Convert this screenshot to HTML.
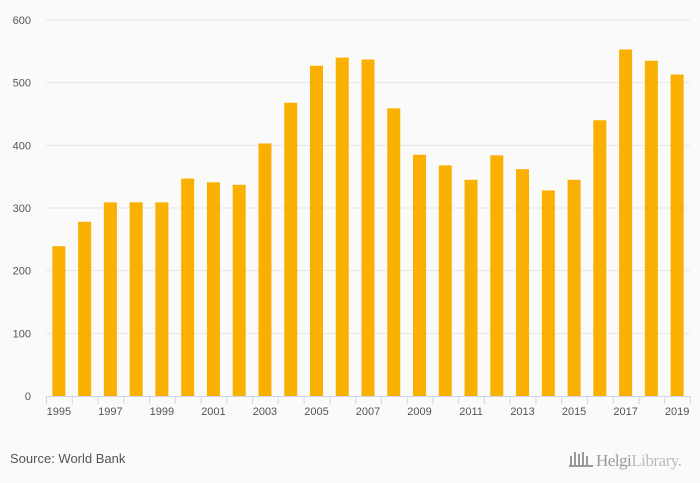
<!DOCTYPE html>
<html><head><meta charset="utf-8"><style>
body{margin:0;background:#fafafa;font-family:"Liberation Sans",sans-serif;}
svg{display:block}
</style></head><body>
<svg id="chart" width="700" height="483">
<rect x="0" y="0" width="700" height="483" fill="#fafafa"/>
<g id="grid"></g><g id="bars"></g><g id="xaxis"></g>
<text x="10" y="463" font-size="13" fill="#555">Source: World Bank</text>
<g fill="#999">
<rect x="570" y="456" width="2" height="10"/><rect x="574" y="452" width="2" height="14"/><rect x="578" y="454" width="2" height="12"/><rect x="582" y="452" width="2" height="14"/><rect x="586" y="456" width="2" height="10"/>
<rect x="569" y="465" width="24" height="2"/>
<text x="596" y="466" font-size="17" font-family="Liberation Serif,serif" fill="#999" letter-spacing="-0.5">Helgi<tspan fill="#bbb">Library.</tspan></text>
</g>
</svg>
<script>
const categories=[1995,1996,1997,1998,1999,2000,2001,2002,2003,2004,2005,2006,2007,2008,2009,2010,2011,2012,2013,2014,2015,2016,2017,2018,2019];
const values=[239,278,309,309,309,347,341,337,403,468,527,540,537,459,385,368,345,384,362,328,345,440,553,535,513];
const yTicks=[0,100,200,300,400,500,600];
const NS="http://www.w3.org/2000/svg";
const x0=46,x1=690,yTop=20,yBot=396,yMax=600;
const band=(x1-x0)/categories.length;
const xs=i=>x0+band*i;
const ys=v=>yBot-(v/yMax)*(yBot-yTop);
function mk(tag,attrs,parent){const e=document.createElementNS(NS,tag);for(const k in attrs)e.setAttribute(k,attrs[k]);parent.appendChild(e);return e;}
const grid=document.getElementById('grid'),bars=document.getElementById('bars'),xa=document.getElementById('xaxis');
yTicks.forEach(t=>{
  if(t>0){const l=mk('line',{x1:x0,x2:x1,y1:ys(t),y2:ys(t),stroke:'#e6e6e6','stroke-width':1},grid);
  
  }
  const tx=mk('text',{x:31,y:ys(t)+4,'font-size':11,fill:'#555','text-anchor':'end'},grid);
  tx.textContent=t;
  
  
});
categories.forEach((c,i)=>{
  const r=mk('rect',{x:xs(i)+band/2-6.5,y:ys(values[i]),width:13,height:yBot-ys(values[i]),fill:'#f9b000'},bars);
  
  
});
const ax=mk('line',{x1:x0,x2:x1,y1:yBot+0.5,y2:yBot+0.5,stroke:'#ccd6eb'},xa);


for(let i=0;i<=categories.length;i++){
  const tk=mk('line',{x1:xs(i)+0.5,x2:xs(i)+0.5,y1:yBot,y2:yBot+8,stroke:'#ccd6eb'},xa);
  
  
}
categories.forEach((c,i)=>{
  if(i%2)return;
  const t=mk('text',{x:xs(i)+band/2,y:415,'font-size':11,fill:'#555','text-anchor':'middle'},xa);
  t.textContent=c;
  
  
});
</script>
</body></html>
